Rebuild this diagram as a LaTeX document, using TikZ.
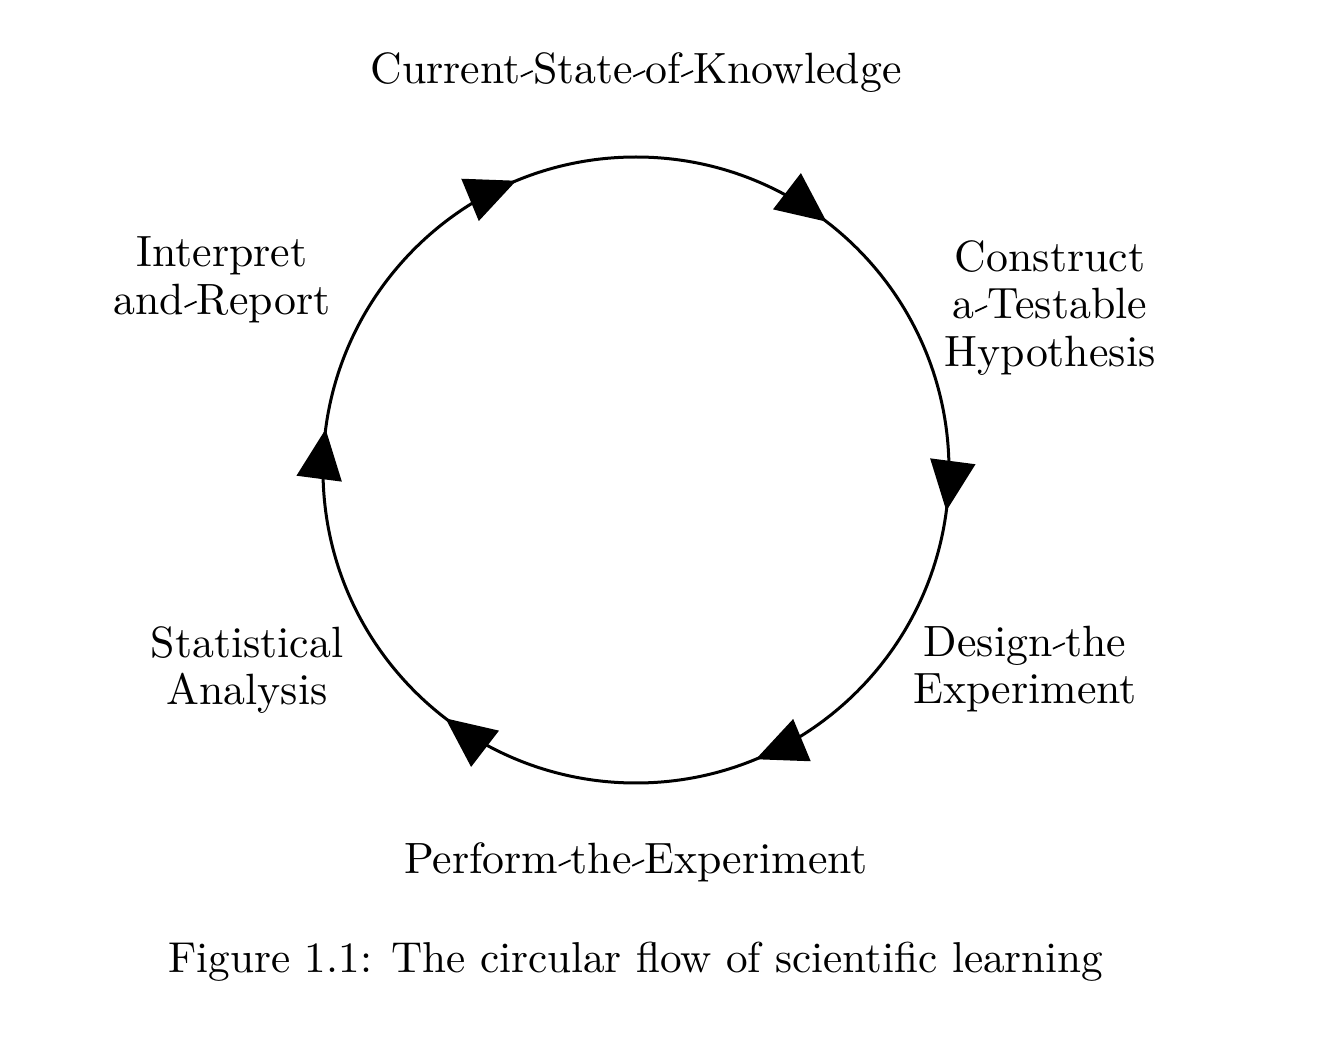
\documentclass[tikz,border=0pt]{standalone}
\usepackage{amsmath}
\usepackage{graphicx}
\usetikzlibrary{arrows.meta,decorations.markings}

\newcommand{\ws}{\raisebox{0.35ex}{\rotatebox{25}{\makebox[0.3em]{\rule{0.3em}{0.04em}}}}}

\begin{document}
\begin{tikzpicture}[x=0.25pt, y=0.25pt]
  % Style definitions
  \tikzstyle{stage} = [align=center, font=\fontsize{10.95}{11.9}\selectfont]
  \tikzstyle{flow} = [line width=0.75pt, postaction={decorate}, decoration={markings,
      mark=between positions 0.1458 and 1 step 0.16667 with {\arrowreversed{Triangle[length=12.5pt, width=11.25pt]}}}]

  \useasboundingbox (-636,-570) rectangle (686,470);

  % Circle
  \coordinate (c) at (0,0);
  \draw[flow] (c) circle[radius=313];

  % Labels
  \node (know)   [stage] at (0,397)      {Current\ws State\ws of\ws Knowledge};
  \node (hypo)   [stage] at (414,162)    {Construct\\a\ws Testable\\Hypothesis};
  \node (design) [stage] at (389,-199)   {Design\ws the\\Experiment};
  \node (perf)   [stage] at (0,-392)     {Perform\ws the\ws Experiment};
  \node (stat)   [stage] at (-389,-200)  {Statistical\\Analysis};
  \node (interp) [stage] at (-414,190)   {Interpret\\and\ws Report};

  % Caption
  \node (cap) [font=\fontsize{10.8}{13}\selectfont] at (0,-492) {Figure 1.1: The circular flow of scientific learning};
\end{tikzpicture}
\end{document}
